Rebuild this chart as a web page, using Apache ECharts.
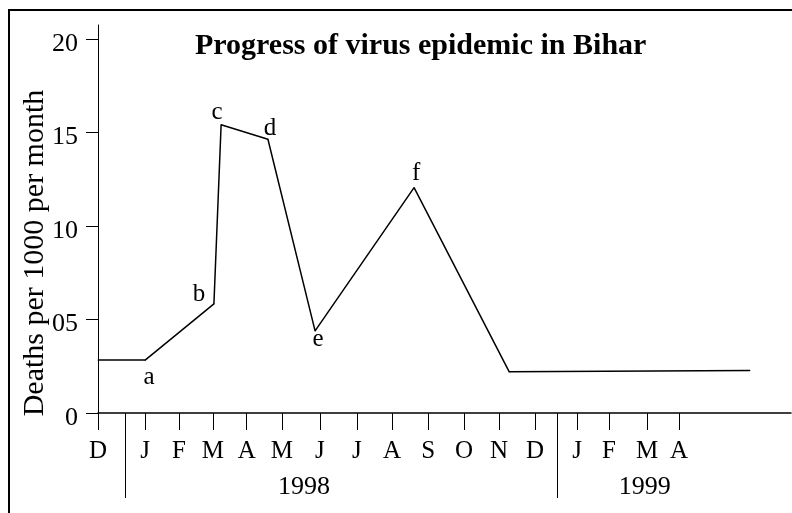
<!DOCTYPE html>
<html>
<head>
<meta charset="utf-8">
<script src="https://cdn.jsdelivr.net/npm/echarts@6/dist/echarts.min.js"></script>
<style>
  html, body { margin: 0; padding: 0; background: #fff; }
  #chartArea { width: 792px; height: 513px; }
</style>
</head>
<body>
<div id="chartArea"></div>
<script>
// x unit: months counted from Dec 1997 (year breaks take a little extra room)
const monthLabels = ['D', 'J', 'F', 'M', 'A', 'M', 'J', 'J', 'A', 'S', 'O', 'N', 'D', 'J', 'F', 'M', 'A'];
const monthTicks = [0, 1.31, 2.25, 3.19, 4.13, 5.11, 6.16, 7.19, 8.17, 9.17, 10.17, 11.14, 12.14, 13.31, 14.19, 15.25, 16.14];
const yearLabels = ['1998', '1999'];
const yearCenters = [5.72, 15.19];
const yearBreaks = [0.75, 12.75];

const yTicks = [0, 5, 10, 15, 20];
const yTickLabels = ['0', '05', '10', '15', '20'];

// deaths per 1000 per month
const xValues = [0, 1.31, 3.22, 3.42, 4.72, 6.03, 8.78, 11.42, 18.11];
const yValues = [2.83, 2.83, 5.84, 15.42, 14.64, 4.39, 12.05, 2.21, 2.27];
const pointNames = ['', 'a', 'b', 'c', 'd', 'e', 'f', '', ''];

// where each letter sits around its point
const letterOffsets = {
    a: [4, 17], b: [-15, -9], c: [-4, -12], d: [2, -11], e: [3, 9], f: [2, -14]
};

const serif = "'Liberation Serif', 'Times New Roman', serif";

const myChart = echarts.init(document.getElementById('chartArea'));

function findLabel(values, labels, v) {
    for (let i = 0; i < values.length; i++) {
        if (Math.abs(values[i] - v) < 1e-6) return labels[i];
    }
    return '';
}

const seriesData = xValues.map((x, i) => {
    const name = pointNames[i];
    const item = { value: [x, yValues[i]] };
    if (name) {
        item.label = {
            show: true,
            formatter: name,
            position: 'inside',
            offset: letterOffsets[name],
            align: 'center',
            verticalAlign: 'middle',
            color: '#000',
            fontFamily: serif,
            fontSize: 25
        };
    }
    return item;
});

const option = {
    animation: false,
    backgroundColor: '#fff',
    title: {
        text: 'Progress of virus epidemic in Bihar',
        left: 195,
        top: 31,
        padding: 0,
        textStyle: { fontFamily: serif, fontWeight: 'bold', fontSize: 30, color: '#000' }
    },
    grid: { left: 98, right: 1, top: 25, bottom: 100 },
    xAxis: [{
        type: 'value',
        min: 0,
        max: 19.25,
        position: 'bottom',
        splitLine: { show: false },
        axisLine: { show: true, lineStyle: { color: '#000', width: 1.5 } },
        axisTick: { show: true, customValues: monthTicks, length: 17, lineStyle: { color: '#000', width: 1 } },
        axisLabel: {
            customValues: monthTicks,
            formatter: v => findLabel(monthTicks, monthLabels, v),
            margin: 38,
            verticalAlign: 'middle',
            color: '#000',
            fontFamily: serif,
            fontSize: 25
        }
    }, {
        type: 'value',
        min: 0,
        max: 19.25,
        position: 'bottom',
        splitLine: { show: false },
        axisLine: { show: false },
        axisTick: { show: true, customValues: yearBreaks, length: 85, lineStyle: { color: '#000', width: 1 } },
        axisLabel: {
            customValues: yearCenters,
            formatter: v => findLabel(yearCenters, yearLabels, v),
            margin: 74,
            verticalAlign: 'middle',
            color: '#000',
            fontFamily: serif,
            fontSize: 26
        }
    }],
    yAxis: {
        type: 'value',
        min: 0,
        max: 20.75,
        splitLine: { show: false },
        axisLine: { show: true, lineStyle: { color: '#000', width: 1 } },
        axisTick: { show: true, customValues: yTicks, length: 12, lineStyle: { color: '#000', width: 1 } },
        axisLabel: {
            customValues: yTicks,
            formatter: v => '{v|' + findLabel(yTicks, yTickLabels, v) + '}',
            margin: 20,
            verticalAlign: 'middle',
            rich: {
                v: {
                    padding: [10, 0, 0, 0],
                    color: '#000',
                    fontFamily: serif,
                    fontSize: 26
                }
            }
        }
    },
    graphic: [{
        type: 'rect',
        shape: { x: 9, y: 10, width: 820, height: 540 },
        style: { fill: 'none', stroke: '#000', lineWidth: 2 },
        silent: true
    }, {
        type: 'text',
        x: 35,
        y: 253,
        rotation: Math.PI / 2,
        style: {
            text: 'Deaths per 1000 per month',
            fill: '#000',
            font: "30px 'Liberation Serif', 'Times New Roman', serif",
            align: 'center',
            verticalAlign: 'middle'
        },
        silent: true
    }],
    series: [{
        type: 'line',
        xAxisIndex: 0,
        data: seriesData,
        symbol: 'circle',
        symbolSize: 1,
        showSymbol: true,
        itemStyle: { color: '#000' },
        lineStyle: { color: '#000', width: 1.5 },
        emphasis: { disabled: true }
    }]
};

myChart.setOption(option);

window.addEventListener('resize', () => {
    myChart.resize();
});
</script>
</body>
</html>
